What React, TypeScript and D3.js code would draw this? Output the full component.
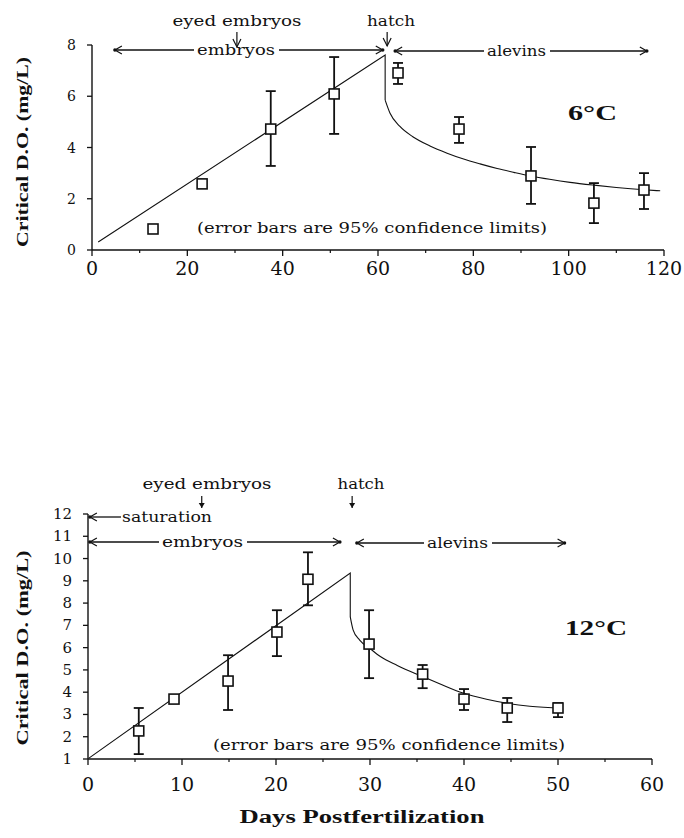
import React from "react";
import * as d3 from "d3";

// ---------- 6 °C incubation ----------
const days6 = [12.8, 23.1, 37.5, 50.8, 64.2, 77.0, 92.1, 105.3, 115.8];
const crit6 = [0.82, 2.58, 4.72, 6.09, 6.91, 4.72, 2.89, 1.83, 2.34];
const upper6: (number | null)[] = [null, null, 6.2, 7.53, 7.3, 5.19, 4.02, 2.61, 3.0];
const lower6: (number | null)[] = [null, null, 3.28, 4.53, 6.48, 4.18, 1.8, 1.05, 1.6];
const fitEmbryo6: [number, number][] = [[1.3, 0.31], [61.5, 7.61], [61.5, 5.85]];
const fitAlevin6: [number, number][] = [
  [61.5, 5.85], [62.5, 5.35], [64.6, 4.82], [67.3, 4.42], [70.9, 4.06], [74.5, 3.78],
  [77.8, 3.56], [81.4, 3.36], [85.0, 3.18], [88.5, 3.03], [92.0, 2.89], [96.0, 2.76],
  [100.3, 2.64], [105.3, 2.53], [110.0, 2.44], [115.8, 2.35], [119.2, 2.31],
];
const xTicks6 = [0, 20, 40, 60, 80, 100, 120];
const xMinor6 = [10, 30, 50, 70, 90, 110];
const yTicks6 = [0, 2, 4, 6, 8];

// ---------- 12 °C incubation ----------
const days12 = [5.4, 9.15, 14.9, 20.1, 23.4, 29.9, 35.6, 40.0, 44.6, 50.0];
const crit12 = [2.26, 3.69, 4.5, 6.7, 9.07, 6.16, 4.81, 3.69, 3.29, 3.29];
const upper12: (number | null)[] = [3.29, null, 5.66, 7.68, 10.28, 7.68, 5.22, 4.14, 3.74, 3.51];
const lower12: (number | null)[] = [1.22, null, 3.2, 5.62, 7.9, 4.63, 4.18, 3.2, 2.66, 2.88];
const fitEmbryo12: [number, number][] = [[0.1, 1.04], [27.9, 9.35], [27.9, 7.38]];
const fitAlevin12: [number, number][] = [
  [27.9, 7.38], [28.2, 6.8], [28.9, 6.34], [30.0, 5.96], [31.1, 5.6], [32.9, 5.2],
  [35.6, 4.7], [37.4, 4.38], [39.9, 3.96], [42.4, 3.68], [44.6, 3.5], [47.0, 3.37], [50.5, 3.29],
];
const xTicks12 = [0, 10, 20, 30, 40, 50, 60];
const xMinor12 = [5, 15, 25, 35, 45, 55];
const yTicks12 = [1, 2, 3, 4, 5, 6, 7, 8, 9, 10, 11, 12];

const INK = "#111";
const SERIF = "'DejaVu Serif', serif";
const SERIF_BOLD = "'Liberation Serif', serif";

function Head({ x, y, dir }: { x: number; y: number; dir: 1 | -1 }) {
  // dir -1: points left, +1: points right
  const a = 7, b = 4;
  return (
    <g>
      <polyline
        points={`${x - dir * a},${y - b} ${x},${y} ${x - dir * a},${y + b}`}
        fill="none" stroke={INK} strokeWidth={1.2}
      />
      <circle cx={x} cy={y} r={1.7} fill={INK} />
    </g>
  );
}

function PhaseArrow({ x1, x2, y, label, cx, len }: { x1: number; x2: number; y: number; label: string; cx: number; len: number }) {
  return (
    <g>
      <line x1={x1} y1={y} x2={cx - len / 2 - 3} y2={y} stroke={INK} strokeWidth={1.3} />
      <line x1={cx + len / 2 + 4} y1={y} x2={x2} y2={y} stroke={INK} strokeWidth={1.3} />
      <Head x={x1} y={y} dir={-1} />
      <Head x={x2} y={y} dir={1} />
      <text x={cx} y={y + 5} textAnchor="middle" fontSize={15} textLength={len} lengthAdjust="spacingAndGlyphs">{label}</text>
    </g>
  );
}

function DownArrow({ x, y1, y2, w = 4, h = 6, filled = false }: { x: number; y1: number; y2: number; w?: number; h?: number; filled?: boolean }) {
  return (
    <g>
      <line x1={x} y1={y1} x2={x} y2={y2} stroke={INK} strokeWidth={1.2} />
      {filled ? (
        <path d={`M${x - w},${y2 - h}L${x},${y2}L${x + w},${y2 - h}Z`} fill={INK} />
      ) : (
        <polyline points={`${x - w},${y2 - h} ${x},${y2} ${x + w},${y2 - h}`} fill="none" stroke={INK} strokeWidth={1.2} />
      )}
    </g>
  );
}

type PanelProps = {
  x: d3.ScaleLinear<number, number>;
  y: d3.ScaleLinear<number, number>;
  days: number[];
  crit: number[];
  upper: (number | null)[];
  lower: (number | null)[];
  fitA: [number, number][];
  fitB: [number, number][];
  xTicks: number[];
  xMinor: number[];
  yTicks: number[];
  yLabelX: number;
  yFont: number;
  xLabelY: number;
};

function Panel(p: PanelProps) {
  const { x, y } = p;
  const [x0, x1] = x.range();
  const [yb, yt] = y.range();
  const lineLin = d3.line<[number, number]>().x((d) => x(d[0])).y((d) => y(d[1]));
  const lineCurve = d3.line<[number, number]>().x((d) => x(d[0])).y((d) => y(d[1])).curve(d3.curveMonotoneX);
  return (
    <g>
      {/* axes */}
      <line x1={x0} y1={yb} x2={x1} y2={yb} stroke={INK} strokeWidth={1.4} />
      <line x1={x0} y1={yb} x2={x0} y2={yt} stroke={INK} strokeWidth={1.4} />
      {p.xTicks.map((t) => (
        <g key={"xt" + t}>
          <line x1={x(t)} y1={yb} x2={x(t)} y2={yb + 6} stroke={INK} strokeWidth={1.3} />
          <text x={x(t)} y={p.xLabelY} textAnchor="middle" fontSize={19} fontWeight={300}>{t}</text>
        </g>
      ))}
      {p.xMinor.map((t) => (
        <line key={"xm" + t} x1={x(t)} y1={yb} x2={x(t)} y2={yb + 3} stroke={INK} strokeWidth={1.2} />
      ))}
      {p.yTicks.map((t) => (
        <g key={"yt" + t}>
          <line x1={x0 - 5} y1={y(t)} x2={x0} y2={y(t)} stroke={INK} strokeWidth={1.3} />
          <text x={p.yLabelX} y={y(t)} textAnchor="end" dominantBaseline="central" fontSize={p.yFont}>{t}</text>
        </g>
      ))}
      {/* fitted relationship */}
      <path d={lineLin(p.fitA) || ""} fill="none" stroke={INK} strokeWidth={1.1} />
      <path d={lineCurve(p.fitB) || ""} fill="none" stroke={INK} strokeWidth={1.1} />
      {/* 95% confidence limits */}
      {p.days.map((d, i) =>
        p.upper[i] != null && p.lower[i] != null ? (
          <g key={"eb" + i}>
            <line x1={x(d)} y1={y(p.upper[i] as number)} x2={x(d)} y2={y(p.lower[i] as number)} stroke={INK} strokeWidth={1.8} />
            <line x1={x(d) - 5} y1={y(p.upper[i] as number)} x2={x(d) + 5} y2={y(p.upper[i] as number)} stroke={INK} strokeWidth={1.8} />
            <line x1={x(d) - 5} y1={y(p.lower[i] as number)} x2={x(d) + 5} y2={y(p.lower[i] as number)} stroke={INK} strokeWidth={1.8} />
          </g>
        ) : null
      )}
      {/* observed critical D.O. */}
      {p.days.map((d, i) => (
        <rect key={"pt" + i} x={x(d) - 5} y={y(p.crit[i]) - 5} width={10} height={10} fill="#fff" stroke={INK} strokeWidth={1.6} />
      ))}
    </g>
  );
}

export default function App() {
  const W = 684, H = 838;
  const x6 = d3.scaleLinear().domain([0, 120]).range([92, 664]);
  const y6 = d3.scaleLinear().domain([0, 8]).range([250, 45]);
  const x12 = d3.scaleLinear().domain([0, 60]).range([88, 652]);
  const y12 = d3.scaleLinear().domain([1, 12]).range([759, 514]);

  return (
    <svg
      width={W}
      height={H}
      viewBox={`0 0 ${W} ${H}`}
      style={{ position: "absolute", left: 0, top: 0, background: "#fff", fontFamily: SERIF }}
      fill={INK}
    >
      <rect width={W} height={H} fill="#fff" />

      {/* ---------- 6 °C ---------- */}
      <Panel x={x6} y={y6} days={days6} crit={crit6} upper={upper6} lower={lower6}
        fitA={fitEmbryo6} fitB={fitAlevin6} xTicks={xTicks6} xMinor={xMinor6} yTicks={yTicks6}
        yLabelX={76} yFont={14} xLabelY={275} />
      <text x={x6(30.4)} y={26} textAnchor="middle" fontSize={15} textLength={129} lengthAdjust="spacingAndGlyphs">eyed embryos</text>
      <DownArrow x={x6(30.4)} y1={32} y2={47} w={4} h={8} />
      <text x={391} y={26} textAnchor="middle" fontSize={15} textLength={48} lengthAdjust="spacingAndGlyphs">hatch</text>
      <DownArrow x={x6(61.5) + 2} y1={32} y2={46} w={4} h={8} />
      <PhaseArrow x1={x6(4.8)} x2={x6(61.0)} y={50} label="embryos" cx={236} len={78} />
      <PhaseArrow x1={x6(63.6)} x2={x6(116.4)} y={51} label="alevins" cx={516.5} len={59} />
      <text x={568} y={120} fontSize={21} fontWeight="bold" fontFamily={SERIF_BOLD} textLength={49} lengthAdjust="spacingAndGlyphs">6°C</text>
      <text x={197} y={233} fontSize={15} textLength={350} lengthAdjust="spacingAndGlyphs">(error bars are 95% confidence limits)</text>
      <text transform="translate(28,152) rotate(-90)" textAnchor="middle" fontSize={17} fontWeight="bold" fontFamily={SERIF_BOLD} textLength={190} lengthAdjust="spacingAndGlyphs">Critical D.O. (mg/L)</text>

      {/* ---------- 12 °C ---------- */}
      <Panel x={x12} y={y12} days={days12} crit={crit12} upper={upper12} lower={lower12}
        fitA={fitEmbryo12} fitB={fitAlevin12} xTicks={xTicks12} xMinor={xMinor12} yTicks={yTicks12}
        yLabelX={72} yFont={15} xLabelY={791} />
      <text x={207} y={489} textAnchor="middle" fontSize={15} textLength={129} lengthAdjust="spacingAndGlyphs">eyed embryos</text>
      <DownArrow x={x12(12.1)} y1={496} y2={508} w={3} h={5} filled />
      <text x={361} y={489} textAnchor="middle" fontSize={15} textLength={47} lengthAdjust="spacingAndGlyphs">hatch</text>
      <DownArrow x={x12(28.1)} y1={496} y2={508} w={3} h={5} filled />
      <line x1={x12(0.2)} y1={517} x2={121} y2={517} stroke={INK} strokeWidth={1.3} />
      <Head x={x12(0.2)} y={517} dir={-1} />
      <text x={122} y={522} fontSize={15} textLength={90} lengthAdjust="spacingAndGlyphs">saturation</text>
      <PhaseArrow x1={x12(0.2)} x2={x12(26.8)} y={542} label="embryos" cx={202.5} len={81} />
      <PhaseArrow x1={x12(28.6)} x2={x12(50.7)} y={543} label="alevins" cx={457.5} len={61} />
      <text x={565} y={635} fontSize={21} fontWeight="bold" fontFamily={SERIF_BOLD} textLength={62} lengthAdjust="spacingAndGlyphs">12°C</text>
      <text x={213} y={750} fontSize={15} textLength={352} lengthAdjust="spacingAndGlyphs">(error bars are 95% confidence limits)</text>
      <text transform="translate(28,648) rotate(-90)" textAnchor="middle" fontSize={17} fontWeight="bold" fontFamily={SERIF_BOLD} textLength={195} lengthAdjust="spacingAndGlyphs">Critical D.O. (mg/L)</text>

      <text x={362} y={823} textAnchor="middle" fontSize={18} fontWeight="bold" fontFamily={SERIF_BOLD} textLength={245} lengthAdjust="spacingAndGlyphs">Days Postfertilization</text>
    </svg>
  );
}
